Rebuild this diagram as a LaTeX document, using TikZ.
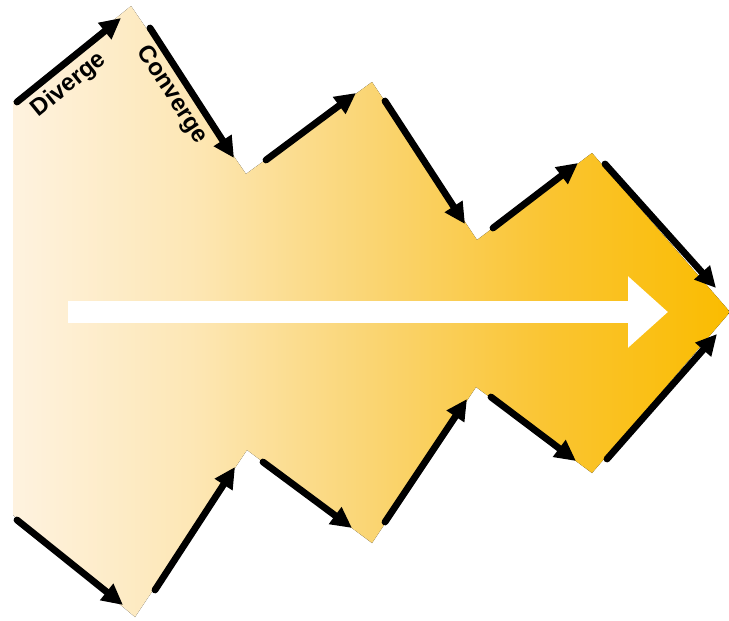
\documentclass[tikz,border=0pt]{standalone}
\usepackage{fontspec}
\setmainfont{Liberation Sans}
\usetikzlibrary{arrows.meta}
\pgfdeclarehorizontalshading{goldgrad}{100bp}{rgb(0bp)=(0.996,0.950,0.875); rgb(25bp)=(0.996,0.950,0.875); rgb(37.5bp)=(0.992,0.905,0.710); rgb(50bp)=(0.980,0.835,0.450); rgb(62.5bp)=(0.980,0.770,0.190); rgb(75bp)=(0.980,0.737,0.0); rgb(100bp)=(0.980,0.737,0.0)}
\begin{document}
\begin{tikzpicture}[x=1pt,y=-1pt,
  edgearrow/.style={line width=6.8pt, line cap=round, draw=black, -{Triangle[length=21pt,width=20pt]}},
  bigarrow/.style={line width=22pt, draw=white, -{Triangle[length=40pt,width=69pt]}},
  lbl/.style={font=\bfseries\fontsize{24}{28}\selectfont, inner sep=0pt, text=black}]
\useasboundingbox (0,0) rectangle (729,621);
% outline vertices
\coordinate (A) at (13,102);
\coordinate (P1) at (131,6);
\coordinate (V1) at (246,174);
\coordinate (P2) at (372,82);
\coordinate (V2) at (477,240);
\coordinate (P3) at (592,153);
\coordinate (T) at (730,312);
\coordinate (Q3) at (592,473);
\coordinate (W2) at (476,387);
\coordinate (Q2) at (372,543);
\coordinate (W1) at (247,450);
\coordinate (Q1) at (135,617);
\coordinate (B) at (13,515);
\fill[shading=goldgrad, shading angle=0] (A) -- (P1) -- (V1) -- (P2) -- (V2) -- (P3) -- (T) -- (Q3) -- (W2) -- (Q2) -- (W1) -- (Q1) -- (B) -- cycle;
% white arrow
\coordinate (ws) at (68,312);
\coordinate (we) at (668,312);
\draw[bigarrow] (ws) -- (we);
% arrow end points
\coordinate (a1s) at (17,102); \coordinate (a1e) at (121,18);
\coordinate (a2s) at (150,28); \coordinate (a2e) at (234,158);
\coordinate (a3s) at (266,160); \coordinate (a3e) at (356,93);
\coordinate (a4s) at (385,101); \coordinate (a4e) at (465,224);
\coordinate (a5s) at (493,228); \coordinate (a5e) at (578,163);
\coordinate (a6s) at (605,164); \coordinate (a6e) at (716,288);
\coordinate (a7s) at (17,520); \coordinate (a7e) at (123,605);
\coordinate (a8s) at (155,590); \coordinate (a8e) at (235,467);
\coordinate (a9s) at (263,462); \coordinate (a9e) at (352,528);
\coordinate (a10s) at (385,522); \coordinate (a10e) at (467,399);
\coordinate (a11s) at (491,397); \coordinate (a11e) at (576,461);
\coordinate (a12s) at (607,459); \coordinate (a12e) at (717,334);
\foreach \i in {1,...,12} {\draw[edgearrow] (a\i s) -- (a\i e);}
% labels
\node[lbl, rotate=39] (div) at (69,85) {Diverge};
\node[lbl, rotate=-57] (conv) at (172,95) {Converge};
\end{tikzpicture}
\end{document}
